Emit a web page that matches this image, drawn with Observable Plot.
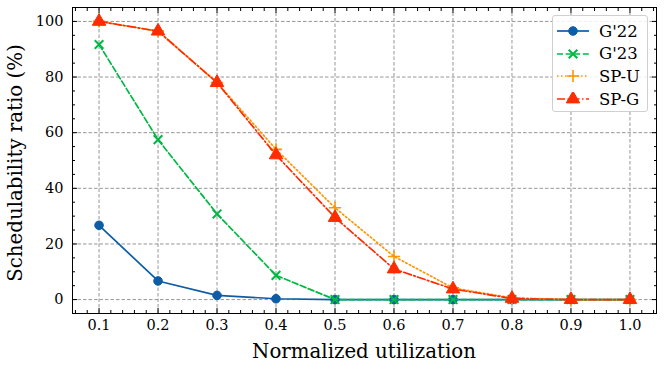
<!DOCTYPE html>
<html><head><meta charset="utf-8">
<script src="https://cdn.jsdelivr.net/npm/d3@7"></script>
<script src="https://cdn.jsdelivr.net/npm/@observablehq/plot@0.6"></script>
<style>
body{margin:0;background:#fff}
#wrap{position:relative;width:664px;height:370px;font-family:"DejaVu Serif",serif;color:#000}
.lab{position:absolute;white-space:nowrap;font-size:19.8px;line-height:1}
#legend{position:absolute;left:552px;top:15px;width:96px;height:97px;border:1px solid #d0d0d0;border-radius:3px;background:rgba(255,255,255,0.85);box-sizing:border-box}
.lg{position:absolute;left:3px;height:20px;display:flex;align-items:center;font-size:16.5px}
.lg svg{margin-right:9px}
</style>
</head><body><div id="wrap"><div id="chart"></div></div>
<script>
const utilization = [0.1, 0.2, 0.3, 0.4, 0.5, 0.6, 0.7, 0.8, 0.9, 1.0];
const g22 = [26.7, 6.7, 1.5, 0.3, 0, 0, 0, 0, 0, 0];
const g23 = [91.7, 57.5, 30.8, 8.7, 0, 0, 0, 0, 0, 0];
const spU = [100, 96.5, 78, 54, 33, 15.5, 4.2, 0.6, 0, 0];
const spG = [100, 96.5, 78, 52, 29.5, 11, 3.8, 0.4, 0, 0];
const seriesNames = ["G'22", "G'23", "SP-U", "SP-G"];
const seriesValues = [g22, g23, spU, spG];
const seriesColors = ["#0C5DA5", "#00B945", "#FF9500", "#FF2C00"];
const seriesDash = [null, "6,2.6", "1.5,2.5", "8,2.5,1.5,2.5"];
const seriesSymbols = ["circle", "times", "plus", "triangle"];
const xTicks = [0.1, 0.2, 0.3, 0.4, 0.5, 0.6, 0.7, 0.8, 0.9, 1.0];
const yTicks = [0, 20, 40, 60, 80, 100];
const xMinor = d3.range(0.06, 1.045, 0.02).filter(v => Math.abs(v*10 - Math.round(v*10)) > 1e-6);
const yMinor = d3.range(-5, 106, 5).filter(v => v % 20 !== 0);

const symStyle = {
  circle: {fill: true, r: 4.3},
  times: {fill: false, r: 4.0, sw: 2},
  plus: {fill: false, r: 4.0, sw: 1.6},
  triangle: {fill: true, r: 5.0}
};

const marks = [
  Plot.gridX(xTicks, {stroke: "#8a8a8a", strokeOpacity: 1, strokeWidth: 0.9, strokeDasharray: "3.5,2"}),
  Plot.gridY(yTicks, {stroke: "#8a8a8a", strokeOpacity: 1, strokeWidth: 0.9, strokeDasharray: "3.5,2"})
];
seriesNames.forEach((name, i) => {
  const data = utilization.map((u, j) => ({u, v: seriesValues[i][j]}));
  marks.push(Plot.line(data, {x: "u", y: "v", stroke: seriesColors[i], strokeWidth: 1.7, strokeDasharray: seriesDash[i]}));
  const s = symStyle[seriesSymbols[i]];
  marks.push(Plot.dot(data, {x: "u", y: "v", symbol: seriesSymbols[i], r: s.r,
    fill: s.fill ? seriesColors[i] : "none", stroke: seriesColors[i], strokeWidth: s.sw || 1}));
});
const blank = () => "";
marks.push(
  Plot.frame({stroke: "#000", strokeWidth: 1}),
  Plot.axisX({ticks: xTicks, anchor: "bottom", tickSize: -5, tickPadding: 11, tickFormat: d3.format(".1f"), fontSize: 14.5, label: null}),
  Plot.axisX({ticks: xMinor, anchor: "bottom", tickSize: -3, tickFormat: blank, label: null}),
  Plot.axisX({ticks: xTicks, anchor: "top", tickSize: -5, tickFormat: blank, label: null}),
  Plot.axisX({ticks: xMinor, anchor: "top", tickSize: -3, tickFormat: blank, label: null}),
  Plot.axisY({ticks: yTicks, anchor: "left", tickSize: -5, tickPadding: 14, fontSize: 14.5, label: null}),
  Plot.axisY({ticks: yMinor, anchor: "left", tickSize: -3, tickFormat: blank, label: null}),
  Plot.axisY({ticks: yTicks, anchor: "right", tickSize: -5, tickFormat: blank, label: null}),
  Plot.axisY({ticks: yMinor, anchor: "right", tickSize: -3, tickFormat: blank, label: null})
);

const chart = Plot.plot({
  width: 664, height: 370,
  marginLeft: 72, marginRight: 8, marginTop: 7, marginBottom: 57,
  style: {fontFamily: "'DejaVu Serif', serif", color: "#000", background: "#fff"},
  x: {domain: [0.055, 1.045]},
  y: {domain: [-5, 105]},
  marks
});
document.getElementById("chart").appendChild(chart);

const wrap = document.getElementById("wrap");
const xl = document.createElement("div");
xl.className = "lab"; xl.textContent = "Normalized utilization";
xl.style.left = "364px"; xl.style.top = "342px"; xl.style.transform = "translateX(-50%)";
wrap.appendChild(xl);
const yl = document.createElement("div");
yl.className = "lab"; yl.textContent = "Schedulability ratio (%)";
yl.style.left = "16px"; yl.style.top = "163px"; yl.style.transform = "translate(-50%,-50%) rotate(-90deg)";
wrap.appendChild(yl);

const legend = document.createElement("div");
legend.id = "legend";
wrap.appendChild(legend);
seriesNames.forEach((name, i) => {
  const row = document.createElement("div");
  row.className = "lg"; row.style.top = (5 + i * 22.7) + "px";
  const svg = d3.create("svg").attr("width", 34).attr("height", 14);
  svg.append("line").attr("x1", 1).attr("x2", 33).attr("y1", 7).attr("y2", 7)
    .attr("stroke", seriesColors[i]).attr("stroke-width", 1.7).attr("stroke-dasharray", seriesDash[i]);
  const s = symStyle[seriesSymbols[i]];
  const symType = {circle: d3.symbolCircle, times: d3.symbolTimes, plus: d3.symbolPlus, triangle: d3.symbolTriangle}[seriesSymbols[i]];
  svg.append("path").attr("transform", "translate(17,7)")
    .attr("d", d3.symbol(symType, Math.PI * s.r * s.r)())
    .attr("fill", s.fill ? seriesColors[i] : "none").attr("stroke", seriesColors[i]).attr("stroke-width", s.sw || 1);
  row.appendChild(svg.node());
  const t = document.createElement("span"); t.textContent = name;
  row.appendChild(t);
  legend.appendChild(row);
});
</script>
</body></html>
